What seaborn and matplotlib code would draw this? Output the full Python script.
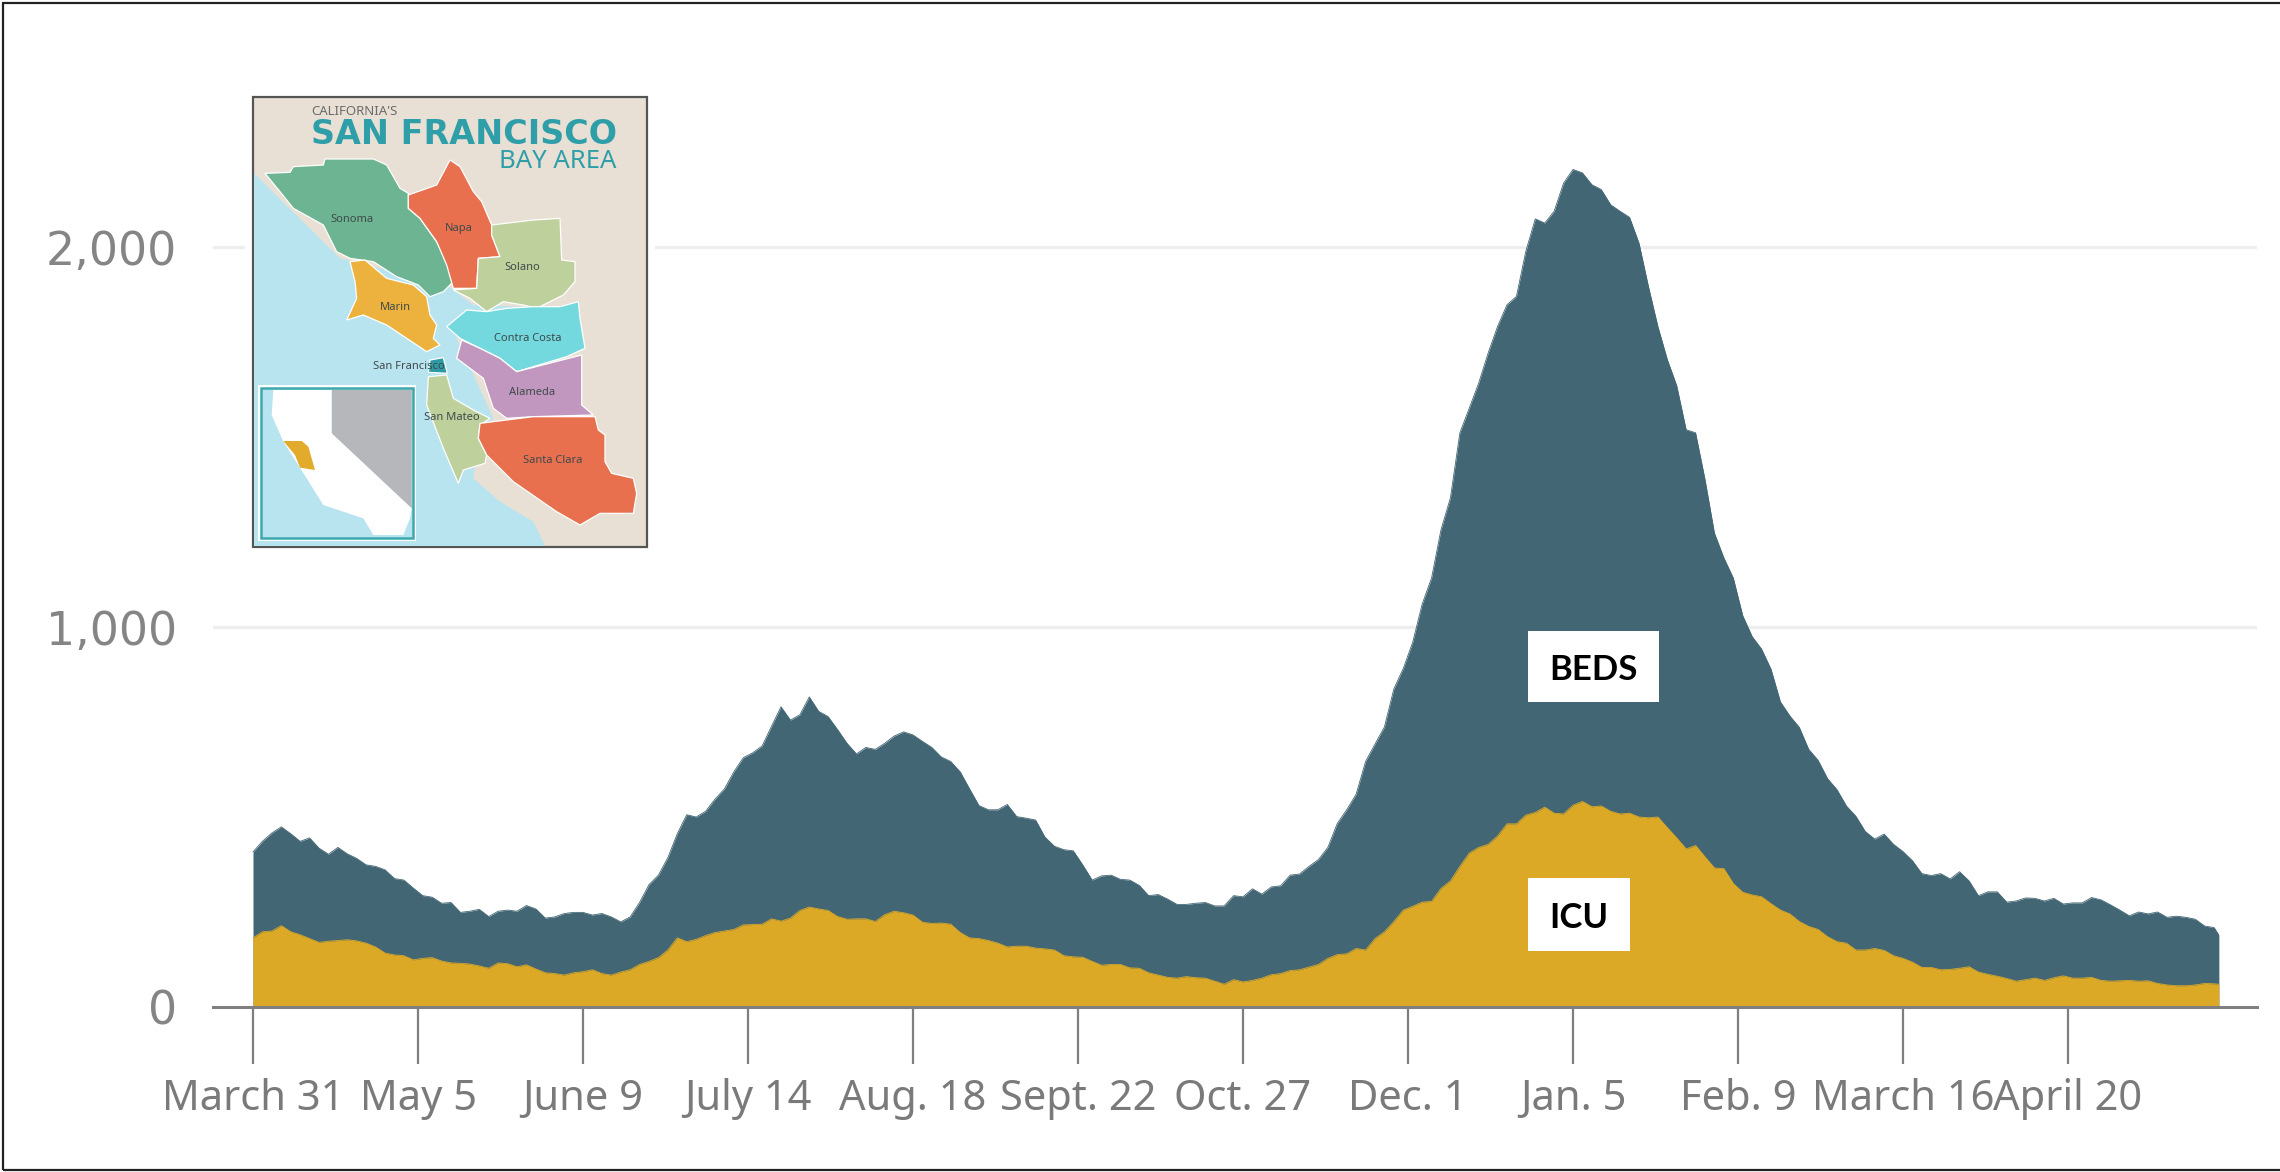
import numpy as np
import pandas as pd
import seaborn as sns
import matplotlib
matplotlib.use("Agg")
import matplotlib.pyplot as plt
from matplotlib.patches import Polygon, Rectangle

# ---------- data (one value every two days, last at day 417) ----------
beds = [408,436,458,474,456,436,445,418,402,420,403,391,374,370,361,338,334,313,293,289,
        273,275,249,252,257,238,252,255,252,267,258,234,237,246,249,249,242,246,237,224,
        237,275,322,347,393,456,506,500,515,547,574,619,656,669,687,739,790,755,769,816,
        778,764,730,694,666,683,678,694,713,724,716,699,683,658,646,619,574,530,519,519,
        533,501,497,492,447,423,414,411,374,334,345,347,336,334,320,293,296,284,270,270,
        273,275,266,266,293,290,311,297,316,319,347,350,370,388,420,483,519,560,646,692,
        737,837,891,960,1060,1129,1256,1340,1511,1576,1642,1721,1791,1848,1870,1989,2074,2063,2094,2168,
        2204,2195,2164,2151,2111,2094,2078,2010,1896,1791,1704,1635,1519,1511,1388,1247,1182,1129,1030,975,
        942,889,803,766,736,678,649,601,572,529,502,462,442,455,428,409,385,351,346,351,
        337,356,332,293,303,303,276,279,287,286,279,286,271,274,274,288,282,269,255,240,
        250,245,250,236,239,236,231,213,209,189]
icu = [182,198,200,214,198,190,180,170,173,175,177,174,168,158,142,137,135,124,128,130,
       121,116,115,113,108,102,116,114,106,111,100,90,88,84,90,93,98,88,84,92,
       98,112,120,130,150,182,172,178,188,196,200,204,216,217,218,232,226,234,254,263,
       258,254,238,231,232,232,225,243,252,248,242,223,220,221,218,196,182,180,175,168,
       158,160,160,155,153,150,135,132,131,120,110,112,112,103,102,90,84,78,76,80,
       77,76,68,60,72,66,70,76,85,88,96,98,105,112,128,138,140,154,150,180,
       198,225,255,265,276,278,312,332,370,405,420,428,450,482,482,505,512,526,510,508,
       531,541,527,529,515,508,510,500,498,500,472,445,416,425,395,366,364,325,302,295,
       290,272,255,245,225,212,204,185,172,168,150,150,154,149,135,128,118,104,104,98,
       99,102,106,92,86,81,75,68,72,76,70,77,82,76,76,78,70,68,69,70,
       68,69,62,58,56,56,58,62,61,60]
days = list(range(0, 417, 2)) + [417]
tick_days = [0, 35, 70, 105, 140, 175, 210, 245, 280, 315, 350, 385]
tick_labels = ["March 31", "May 5", "June 9", "July 14", "Aug. 18", "Sept. 22",
               "Oct. 27", "Dec. 1", "Jan. 5", "Feb. 9", "March 16", "April 20"]
y_ticks = [0, 1000, 2000]
y_labels = ["0", "1,000", "2,000"]

# ---------- map inset shapes (decorative picture, in its own units) ----------
water = [(42,265),(300,520),(620,600),(700,660),(1000,670),(650,760),(760,1000),(720,1040),
         (700,1180),(780,1250),(880,1310),(915,1383),(42,1383)]
counties = {
 "Sonoma": ("#6DB592", [(75,265),(150,262),(160,245),(250,240),(255,222),(400,222),(440,240),(480,310),
            (505,325),(505,370),(540,400),(590,470),(625,540),(640,590),(610,620),(570,635),(535,600),
            (470,575),(400,530),(330,520),(290,500),(250,420),(160,370),(120,320)]),
 "Napa": ("#E8704F", [(630,225),(660,245),(700,320),(725,350),(755,420),(755,450),(780,515),(715,520),
          (710,610),(640,610),(620,540),(590,470),(540,400),(505,370),(505,330),(590,300)]),
 "Solano": ("#BED09C", [(755,420),(880,405),(960,400),(965,525),(1005,530),(1005,590),(970,630),(890,670),
            (850,660),(790,650),(740,680),(690,640),(640,615),(710,610),(715,520),(780,515),(755,450)]),
 "Marin": ("#EDB23E", [(330,530),(375,525),(440,580),(520,600),(560,635),(570,690),(590,720),(580,760),
           (600,780),(560,800),(500,760),(440,720),(370,690),(320,705),(350,640),(345,590)]),
 "Contra Costa": ("#73D9DF", [(620,725),(680,675),(740,680),(800,670),(880,665),(960,665),(1015,650),(1020,700),
                  (1035,790),(980,815),(830,860),(780,820),(720,790),(660,760)]),
 "Alameda": ("#C297BF", [(665,765),(720,790),(780,820),(830,860),(1025,810),(1025,960),(1060,990),(880,995),
             (800,1000),(760,970),(730,880),(650,820)]),
 "San Mateo": ("#BED09C", [(565,875),(620,870),(640,940),(700,975),(750,1000),(720,1020),(715,1060),(740,1110),
               (735,1135),(670,1155),(655,1195),(610,1090),(560,960)]),
 "Santa Clara": ("#E8704F", [(720,1015),(880,995),(1065,995),(1075,1035),(1095,1050),(1095,1130),(1115,1165),
                 (1180,1180),(1190,1225),(1180,1285),(1080,1285),(1020,1320),(950,1280),(820,1190),(740,1110),(715,1060)]),
 "San Francisco": ("#2E9AA6", [(570,825),(610,818),(622,865),(565,862)]),
}
county_labels = [("Sonoma",336,403),("Napa",655,431),("Solano",848,547),("Marin",466,666),
                 ("Contra Costa",862,760),("San Francisco",505,844),("Alameda",875,922),
                 ("San Mateo",636,999),("Santa Clara",937,1127)]
nevada = [(275,915),(515,915),(515,1270),(275,1045)]
california = [(100,915),(275,915),(275,1045),(515,1270),(510,1300),(490,1350),(400,1350),(370,1300),
              (250,1260),(200,1180),(130,1070),(95,990)]
bay_area = [(130,1068),(185,1068),(205,1085),(225,1155),(180,1148),(165,1110)]

# ---------- figure ----------
sns.set_theme(style="white")
plt.rcParams["font.family"] = ["Noto Sans", "DejaVu Sans"]
W, H = 2280, 1172
fig = plt.figure(figsize=(W/100, H/100), dpi=100, facecolor="white")
PXDAY = 165/35
X0 = 253
left_px, right_px, base_px = 213, 2257, 1007
ax = fig.add_axes([left_px/W, 1-base_px/H, (right_px-left_px)/W, base_px/H])
ax.set_xlim((left_px-X0)/PXDAY, (right_px-X0)/PXDAY)
ax.set_ylim(0, base_px/0.38)

df = pd.DataFrame({"day": days, "beds": beds, "icu": icu})
TEAL, GOLD = "#436674", "#DBA926"
ax.fill_between(df["day"], df["beds"], color=TEAL, lw=0, zorder=2)
ax.fill_between(df["day"], df["icu"], color=GOLD, lw=0, zorder=3)
sns.lineplot(data=df, x="day", y="beds", ax=ax, color=TEAL, lw=0.6, zorder=2.5, legend=False)
sns.lineplot(data=df, x="day", y="icu", ax=ax, color=GOLD, lw=0.6, zorder=3.5, legend=False)

for s in ["top", "right", "left"]:
    ax.spines[s].set_visible(False)
ax.spines["bottom"].set_color("#808080")
ax.spines["bottom"].set_linewidth(2.2)
ax.spines["bottom"].set_zorder(5)
ax.set_xlabel(""); ax.set_ylabel("")
ax.set_yticks(y_ticks)
ax.set_yticklabels(y_labels, family="DejaVu Sans")
ax.yaxis.grid(True, color="#EEEEEE", lw=2.4, zorder=1)
ax.xaxis.grid(False)
ax.set_axisbelow(True)
ax.tick_params(axis="y", length=0, pad=26, labelsize=33, labelcolor="#858585")
ax.set_xticks(tick_days)
ax.set_xticklabels(tick_labels)
ax.tick_params(axis="x", length=41, width=1.6, color="#7f7f7f", pad=10,
               labelsize=30, labelcolor="#7a7a7a", bottom=True)
for lab in ax.get_xticklabels() + ax.get_yticklabels():
    lab.set_clip_on(False)
ax.get_ygridlines()[0].set_visible(False)

# white label boxes
def label_box(text, x0, x1, y0, y1, dy):
    fig.patches.append(Rectangle((x0/W, 1-y1/H), (x1-x0)/W, (y1-y0)/H, transform=fig.transFigure,
                                 facecolor="white", edgecolor="none", zorder=6))
    fig.text((x0+x1)/2/W, 1-((y0+y1)/2+dy)/H, text, ha="center", va="center", fontsize=25,
             fontweight="bold", family="Lato", color="black", zorder=7)
label_box("BEDS", 1528, 1659, 631, 702, 3)
label_box("ICU", 1528, 1630, 878, 951, 4)

# map inset: axes units are the crop's 3x pixels
m = fig.add_axes([240/W, 1-560/H, 420/W, 475/H], facecolor="white", zorder=4)
m.set_xlim(0, 1260); m.set_ylim(1425, 0); m.axis("off")
m.add_patch(Rectangle((15, 0), 1230, 1425, facecolor="white", edgecolor="none", zorder=0))
m.add_patch(Rectangle((40, 35), 1180, 1350, facecolor="#E8E0D4", edgecolor="#555555", lw=1.6, zorder=1))
m.add_patch(Polygon(water, facecolor="#B8E4F0", edgecolor="none", zorder=2))
for name, (col, pts) in counties.items():
    m.add_patch(Polygon(pts, facecolor=col, edgecolor="white", lw=0.9, zorder=3))
m.add_patch(Rectangle((54, 899), 474, 470, facecolor="white", edgecolor="none", zorder=3))
m.add_patch(Rectangle((64, 909), 454, 450, facecolor="#B8E4F0", edgecolor="#3DA8AE", lw=1.8, zorder=3))
m.add_patch(Polygon(nevada, facecolor="#B5B7BA", edgecolor="none", zorder=4))
m.add_patch(Polygon(california, facecolor="white", edgecolor="none", zorder=4))
m.add_patch(Polygon(bay_area, facecolor="#E2AB2C", edgecolor="none", zorder=5))
for name, x, y in county_labels:
    m.text(x, y, name, ha="center", va="center", fontsize=8, color="#3f4a4a", zorder=6)
m.text(215, 80, "CALIFORNIA'S", ha="left", va="center", fontsize=9.5, color="#6b6b6b", zorder=6)
m.text(1130, 148, "SAN FRANCISCO", ha="right", va="center", fontsize=24, fontweight="bold",
       color="#2E9EA8", family="DejaVu Sans", zorder=6)
m.text(1130, 228, "BAY AREA", ha="right", va="center", fontsize=18.5, color="#2E9EA8", zorder=6)

# outer frame: left, top and bottom edges only reach the picture; the right edge lies beyond it
fig.patches.append(Rectangle((2.5/W, 1-1170/H), 2290/W, 1167/H, transform=fig.transFigure,
                             facecolor="none", edgecolor="#222222", lw=1.6, zorder=10))
fig.savefig("out.png", dpi=100)
